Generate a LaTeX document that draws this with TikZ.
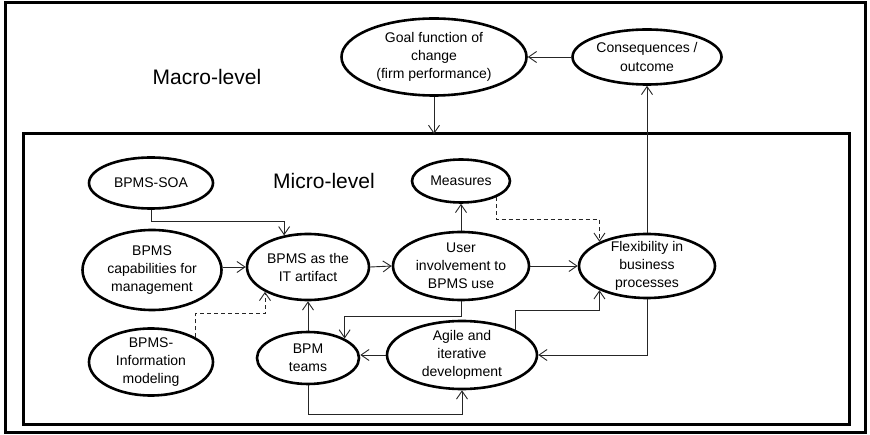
\documentclass[tikz,border=0pt]{standalone}
\usepackage{fontspec}
\setmainfont{Liberation Sans}
\usetikzlibrary{shapes.geometric,arrows.meta}
\begin{document}
\begin{tikzpicture}[x=1pt,y=-1pt,
  ell/.style={ellipse, draw, line width=2.6pt, inner sep=-10pt, align=center,
    font=\fontsize{14}{18}\selectfont},
  conn/.style={line width=0.9pt, draw=black!85, -{Straight Barb[length=8pt,width=11pt]}},
  dconn/.style={conn, dash pattern=on 4pt off 3pt},
  frame/.style={draw, line width=3pt, inner sep=0pt, outer sep=0pt},
  lvl/.style={font=\fontsize{21}{24}\selectfont, inner sep=0pt}
]
\useasboundingbox (0,0) rectangle (870,435);
\node[frame, minimum width=860, minimum height=429] (macro) at (435,217.5) {};
\node[frame, minimum width=826, minimum height=290] (micro) at (436,279) {};
\node[lvl] (macrolbl) at (207,77) {Macro-level};
\node[lvl] (microlbl) at (324,181) {Micro-level};

\node[ell, minimum width=185, minimum height=77] (goal) at (434,57) {Goal function of\\change\\(firm performance)};
\node[ell, minimum width=149, minimum height=55] (cons) at (647,57) {Consequences /\\outcome};
\node[ell, minimum width=98, minimum height=43] (meas) at (461,181) {Measures};
\node[ell, minimum width=124, minimum height=51] (soa) at (151,183) {BPMS-SOA};
\node[ell, minimum width=139, minimum height=80] (cap) at (152,270) {BPMS\\capabilities for\\management};
\node[ell, minimum width=122, minimum height=66] (art) at (308,267) {BPMS as the\\IT artifact};
\node[ell, minimum width=136, minimum height=68] (user) at (461,266) {User\\involvement to\\BPMS use};
\node[ell, minimum width=136, minimum height=64] (flex) at (647,266) {Flexibility in\\business\\processes};
\node[ell, minimum width=124, minimum height=67] (info) at (151,362) {BPMS-\\Information\\modeling};
\node[ell, minimum width=102, minimum height=52] (teams) at (308,358) {BPM\\teams};
\node[ell, minimum width=150, minimum height=68] (agile) at (462,355) {Agile and\\iterative\\development};

\draw[conn] (cons.west) -- (goal.east);
\draw[conn] (goal.south) -- (goal.south |- micro.north);
\draw[conn] (flex.north) -- (cons.south);
\draw[conn] (soa.south) |- ([yshift=14pt]art.127) -- (art.127);
\draw[conn] (cap.east |- art.west) -- (art.west);
\draw[dconn] (info.29) |- ([yshift=-22pt]art.210) -- (art.210);
\draw[conn] (teams.north) -- (art.south);
\draw[conn] (art.east) -- (user.west);
\draw[conn] (user.north) -- (meas.south);
\draw[dconn] (meas.-25) |- ([yshift=22pt]flex.153) -- (flex.153);
\draw[conn] (user.east) -- (flex.west);
\draw[conn] (user.south) |- ([yshift=22pt]teams.28) -- (teams.28);
\draw[conn] (agile.west) -- (agile.west -| teams.east);
\draw[conn] (teams.south) |- ([yshift=-24pt]agile.south) -- (agile.south);
\draw[conn] (agile.25) |- ([yshift=-20pt]flex.-153) -- (flex.-153);
\draw[conn] (flex.south) |- (agile.east);
\end{tikzpicture}
\end{document}
